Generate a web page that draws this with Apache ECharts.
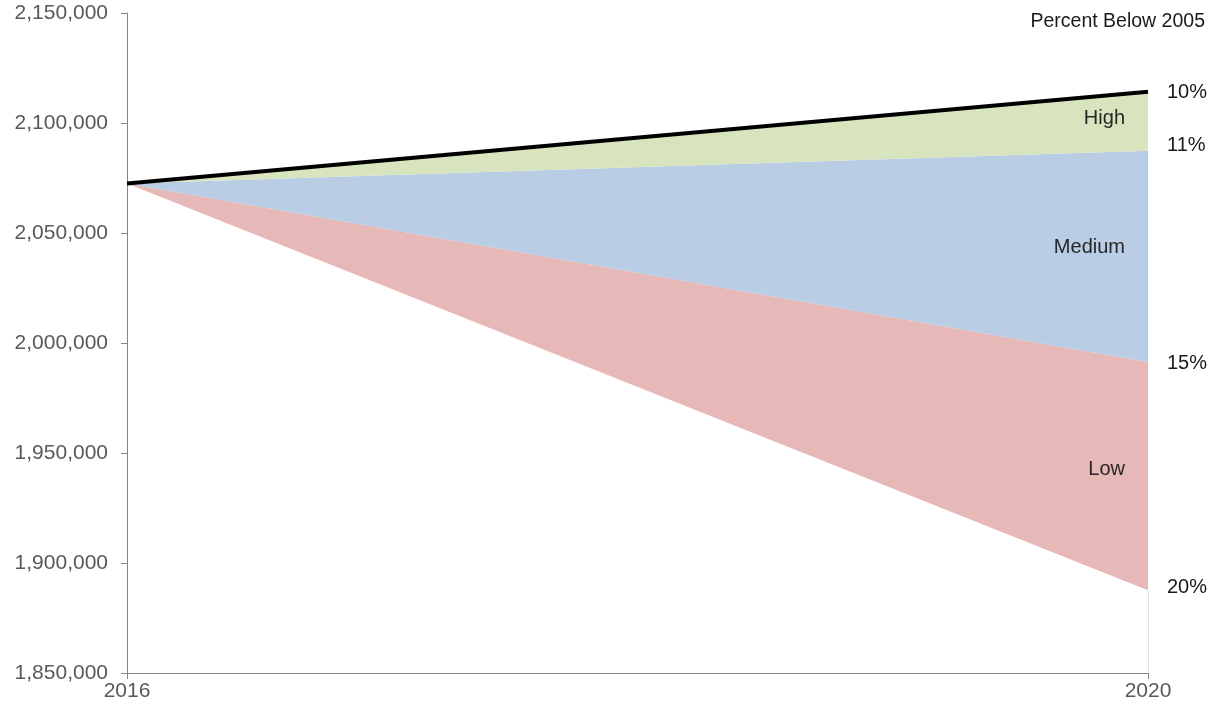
<!DOCTYPE html>
<html>
<head>
<meta charset="utf-8">
<script src="https://cdn.jsdelivr.net/npm/echarts@6/dist/echarts.min.js"></script>
<style>html,body{margin:0;padding:0;background:#fff}#c{width:1221px;height:708px}</style>
</head>
<body>
<div id="c"></div>
<script>
// Data
var years = ['2016', '2020'];
var upperBound = [2072500, 2114200];      // top of High band (black line)
var highMediumBound = [2072500, 2087400]; // High / Medium boundary
var mediumLowBound = [2072500, 1991400];  // Medium / Low boundary
var lowerBound = [2072500, 1887600];      // bottom of Low band
var bandNames = ['High', 'Medium', 'Low'];
var endPercents = ['10%', '11%', '15%', '20%'];
var yTicks = [1850000, 1900000, 1950000, 2000000, 2050000, 2100000, 2150000];

function diff(a, b) { return a.map(function (v, i) { return v - b[i]; }); }

var chart = echarts.init(document.getElementById('c'));
var font = 'Liberation Sans, Arial, sans-serif';

chart.setOption({
  animation: false,
  grid: { left: 127, right: 73, top: 13, bottom: 35, containLabel: false },
  xAxis: {
    type: 'category', data: years, boundaryGap: false,
    axisLine: { lineStyle: { color: '#868686', width: 1 } },
    axisTick: { show: true, length: 6, lineStyle: { color: '#868686' } },
    axisLabel: { color: '#595959', fontSize: 21, fontFamily: font, margin: 8 },
    splitLine: { show: false }
  },
  yAxis: {
    type: 'value', min: yTicks[0], max: yTicks[yTicks.length - 1], interval: 50000,
    axisLine: { show: true, lineStyle: { color: '#868686', width: 1 } },
    axisTick: { show: true, length: 6, lineStyle: { color: '#868686' } },
    axisLabel: { color: '#595959', fontSize: 21, fontFamily: font, margin: 19,
      formatter: function (v) { return v.toLocaleString('en-US'); } },
    splitLine: { show: false }
  },
  series: [
    { type: 'line', stack: 'b', data: lowerBound, symbol: 'none',
      lineStyle: { opacity: 0 }, silent: true,
      markLine: { symbol: 'none', silent: true, label: { show: false },
        lineStyle: { color: '#e4e4e4', width: 1, type: 'solid' },
        data: [[{ coord: [years[1], yTicks[0]] }, { coord: [years[1], lowerBound[1]] }]] } },
    { type: 'line', stack: 'b', name: bandNames[2], data: diff(mediumLowBound, lowerBound), symbol: 'none',
      lineStyle: { opacity: 0 }, areaStyle: { color: '#e6b8b7', opacity: 1 } },
    { type: 'line', stack: 'b', name: bandNames[1], data: diff(highMediumBound, mediumLowBound), symbol: 'none',
      lineStyle: { opacity: 0 }, areaStyle: { color: '#b9cde5', opacity: 1 } },
    { type: 'line', stack: 'b', name: bandNames[0], data: diff(upperBound, highMediumBound), symbol: 'none',
      lineStyle: { color: '#000', width: 4 }, areaStyle: { color: '#d7e4bd', opacity: 1 } }
  ]
});

function px(i, y) { return chart.convertToPixel({ gridIndex: 0 }, [i, y]); }
var bounds = [upperBound, highMediumBound, mediumLowBound, lowerBound];
var pctOffsets = [1, -5, 2, -3];
var g = [];
bounds.forEach(function (b, i) {
  var p = px(1, b[1]);
  g.push({ type: 'text', z: 100, x: p[0] + 19, y: p[1] + pctOffsets[i],
    style: { text: endPercents[i], fontSize: 20, fontFamily: font, fill: '#1a1a1a', verticalAlign: 'middle' } });
});
var bandOffsets = [-3, -9, -7];
for (var k = 0; k < 3; k++) {
  var pTop = px(1, bounds[k][1]);
  var pBot = px(1, bounds[k + 1][1]);
  var mid = (pTop[1] + pBot[1]) / 2 + bandOffsets[k];
  g.push({ type: 'text', z: 100, x: pTop[0] - 23, y: mid,
    style: { text: bandNames[k], fontSize: 20, fontFamily: font, fill: '#262626', align: 'right', verticalAlign: 'middle' } });
}
g.push({ type: 'text', z: 100, right: 16, top: 12,
  style: { text: 'Percent Below 2005', fontSize: 19.5, fontFamily: font, fill: '#1a1a1a' } });
chart.setOption({ graphic: g });
</script>
</body>
</html>
